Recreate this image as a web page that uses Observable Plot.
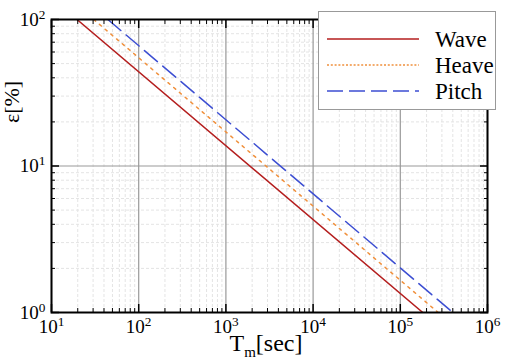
<!DOCTYPE html>
<html><head><meta charset="utf-8">
<script src="https://cdn.jsdelivr.net/npm/d3@7"></script>
<script src="https://cdn.jsdelivr.net/npm/@observablehq/plot@0.6"></script>
<style>body{margin:0;background:#fff;}#c{position:relative;width:513px;height:363px;}</style>
</head><body><div id="c"></div>
<script>
// Data (ε ∝ Tm^-0.5 lines, straight on log-log)
const series = ["Wave", "Heave", "Pitch"];
const waveT = [19.6, 181000];
const waveE = [100, 1];
const heaveT = [30.5, 272000];
const heaveE = [100, 1];
const pitchT = [44.3, 400000];
const pitchE = [100, 1];
const xTicks = [1e1, 1e2, 1e3, 1e4, 1e5, 1e6];
const yTicks = [1, 10, 100];
const xTickLabels = ["1", "2", "3", "4", "5", "6"];
const yTickLabels = ["0", "1", "2"];

const colors = {Wave: "#b41e1e", Heave: "#f0903c", Pitch: "#3c4ed2"};
const dashes = {Wave: null, Heave: "2.5,5", Pitch: "17,7"};
const legendDashes = {Wave: null, Heave: "2,1.8", Pitch: "16,6"};

const rows = [];
[[waveT, waveE], [heaveT, heaveE], [pitchT, pitchE]].forEach(([T, E], i) =>
  T.forEach((t, j) => rows.push({s: series[i], t, e: E[j]})));

const minor = (ticks) => {
  const out = [];
  for (let k = 0; k < ticks.length - 1; k++)
    for (let m = 2; m <= 9; m++) out.push(ticks[k] * m);
  return out;
};
const xMinor = minor(xTicks), yMinor = minor(yTicks);
const font = "Liberation Serif, Times New Roman, serif";
const none = () => "";
const xLab = d => "10^" + xTickLabels[xTicks.findIndex(v => Math.abs(v - d) / v < 1e-6)];
const yLab = d => "10^" + yTickLabels[yTicks.findIndex(v => Math.abs(v - d) / v < 1e-6)];

const chart = Plot.plot({
  width: 513, height: 363,
  marginLeft: 51, marginRight: 26, marginTop: 19, marginBottom: 51,
  style: {fontFamily: font, background: "#fff"},
  x: {type: "log", domain: [1e1, 1e6]},
  y: {type: "log", domain: [1, 100]},
  marks: [
    Plot.ruleX(xMinor, {stroke: "#e4e4e4", strokeDasharray: "3,2", strokeWidth: 1}),
    Plot.ruleY(yMinor, {stroke: "#e4e4e4", strokeDasharray: "3,2", strokeWidth: 1}),
    Plot.ruleX(xTicks, {stroke: "#999", strokeWidth: 1.2}),
    Plot.ruleY(yTicks, {stroke: "#999", strokeWidth: 1.2}),
    ...series.map(s => Plot.line(rows.filter(d => d.s === s), {
      x: "t", y: "e", stroke: colors[s], strokeWidth: 1.5,
      strokeDasharray: dashes[s], clip: true
    })),
    // inward ticks on all sides
    Plot.axisX(xTicks, {anchor: "bottom", tickSize: -8, tickFormat: none, label: null, strokeWidth: 1.5}),
    Plot.axisX(xMinor, {anchor: "bottom", tickSize: -4, tickFormat: none, label: null}),
    Plot.axisX(xTicks, {anchor: "top", tickSize: -8, tickFormat: none, label: null, strokeWidth: 1.5}),
    Plot.axisX(xMinor, {anchor: "top", tickSize: -4, tickFormat: none, label: null}),
    Plot.axisY(yTicks, {anchor: "left", tickSize: -8, tickFormat: none, label: null, strokeWidth: 1.5}),
    Plot.axisY(yMinor, {anchor: "left", tickSize: -4, tickFormat: none, label: null}),
    Plot.axisY(yTicks, {anchor: "right", tickSize: -8, tickFormat: none, label: null, strokeWidth: 1.5}),
    Plot.axisY(yMinor, {anchor: "right", tickSize: -4, tickFormat: none, label: null}),
    // labels
    Plot.axisX(xTicks, {anchor: "bottom", tickSize: 0, tickPadding: 7, fontSize: 19,
      tickFormat: xLab, label: null}),
    Plot.axisY(yTicks, {anchor: "left", tickSize: 0, tickPadding: 6, fontSize: 19,
      tickFormat: yLab, label: null}),
    Plot.frame({stroke: "#000", strokeWidth: 2})
  ]
});

const svg = d3.select(chart);
svg.selectAll("text").each(function () {
  const t = d3.select(this);
  const txt = t.text();
  if (txt.startsWith("10^")) {
    const exp = txt.slice(3);
    t.text("10");
    t.append("tspan").attr("dy", "-0.5em").attr("font-size", "0.7em").text(exp);
  }
});
svg.attr("font-family", font).style("overflow", "visible");

// axis titles
svg.append("text").attr("x", 266).attr("y", 351).attr("text-anchor", "middle")
  .attr("font-size", 24).attr("font-family", font).attr("fill", "#000")
  .call(t => {
    t.append("tspan").text("T");
    t.append("tspan").attr("font-size", 15).attr("dy", 6).text("m");
    t.append("tspan").attr("dy", -6).text("[sec]");
  });
svg.append("text").attr("transform", "translate(19,102) rotate(-90)")
  .attr("text-anchor", "middle").attr("font-size", 22).attr("font-family", font)
  .attr("fill", "#000").text("ε[%]");

// legend
const lg = svg.append("g");
lg.append("rect").attr("x", 318.5).attr("y", 11.5).attr("width", 177).attr("height", 98)
  .attr("fill", "#fff").attr("stroke", "#999").attr("stroke-width", 1);
series.forEach((s, i) => {
  const y = 39 + i * 26;
  lg.append("line").attr("x1", 327).attr("x2", 419).attr("y1", y).attr("y2", y)
    .attr("stroke", colors[s]).attr("stroke-width", 1.5)
    .attr("stroke-dasharray", legendDashes[s]);
  lg.append("text").attr("x", 435).attr("y", y + 7.5).attr("font-size", 23)
    .attr("text-anchor", "start")
    .attr("font-family", font).attr("fill", "#000").text(s);
});

document.getElementById("c").appendChild(chart);
</script></body></html>
